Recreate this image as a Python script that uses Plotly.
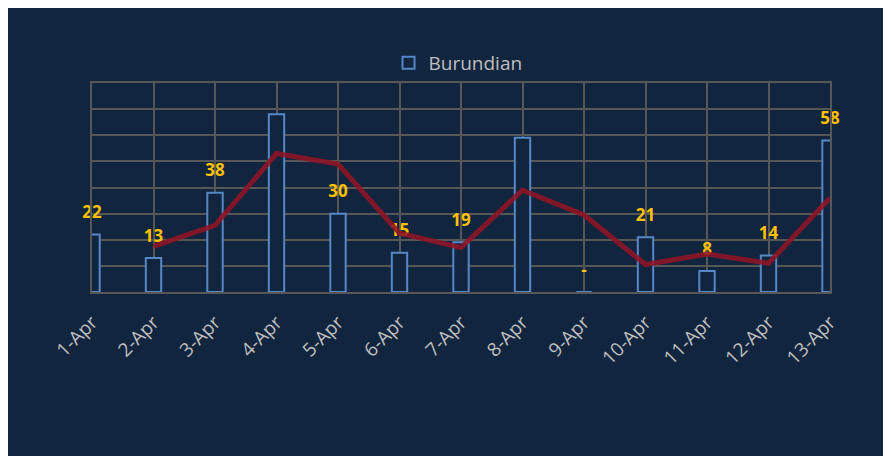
import plotly.graph_objects as go

categories = ["1-Apr", "2-Apr", "3-Apr", "4-Apr", "5-Apr", "6-Apr", "7-Apr",
              "8-Apr", "9-Apr", "10-Apr", "11-Apr", "12-Apr", "13-Apr"]
burundian = [22, 13, 38, 68, 30, 15, 19, 59, 0, 21, 8, 14, 58]
label_text = ["22", "13", "38", "", "30", "15", "19", "", "-", "21", "8", "14", "58"]
trend = [None, 17.5, 25.5, 53, 49, 22.5, 17, 39, 29.5, 10.5, 14.5, 11, 36]

W, H = 891, 456
L, R, T, B = 84, 69, 75, 172
pw, ph = W - L - R, H - T - B

def px_x(p):
    return (p - L) / pw

def px_y(p):
    return (H - B - p) / ph

NAVY = "#11253f"
GRID = "#575757"

fig = go.Figure()
fig.add_trace(go.Bar(
    x=categories, y=burundian, name="Burundian", width=0.25,
    marker=dict(color=NAVY, line=dict(color="#5688c8", width=2)),
    showlegend=True,
))
fig.add_trace(go.Scatter(
    x=categories, y=burundian, mode="markers+text", text=label_text,
    textposition="top center",
    marker=dict(size=18, opacity=0),
    textfont=dict(color="#ffc000", size=17, family="Open Sans", weight="bold"),
    showlegend=False, cliponaxis=False, hoverinfo="skip",
))
fig.add_trace(go.Scatter(
    x=categories, y=trend, mode="lines",
    line=dict(color="rgba(145,20,38,0.88)", width=5),
    showlegend=False, hoverinfo="skip",
))

fig.update_layout(
    width=W, height=H,
    margin=dict(l=L, r=R, t=T, b=B),
    paper_bgcolor=NAVY, plot_bgcolor=NAVY,
    font=dict(family="Open Sans", color="#bfbfbf"),
    barmode="overlay",
    legend=dict(orientation="h", x=px_x(450), y=px_y(55), xanchor="center", yanchor="middle",
                font=dict(size=19, color="#bfbfbf"), bgcolor="rgba(0,0,0,0)"),
    xaxis=dict(type="category", range=[0, 12], showgrid=True, gridcolor=GRID, gridwidth=1.5,
               showline=True, linecolor=GRID, linewidth=1.5, mirror=True,
               tickangle=-45, tickfont=dict(size=19, color="#bfbfbf"), ticks="",
               ticklabelstandoff=10),
    yaxis=dict(range=[0, 80], dtick=10, showgrid=True, gridcolor=GRID, gridwidth=1.5,
               showline=True, linecolor=GRID, linewidth=1.5, mirror=True,
               showticklabels=False, zeroline=False, ticks=""),
)

fig.write_html("out.html")
